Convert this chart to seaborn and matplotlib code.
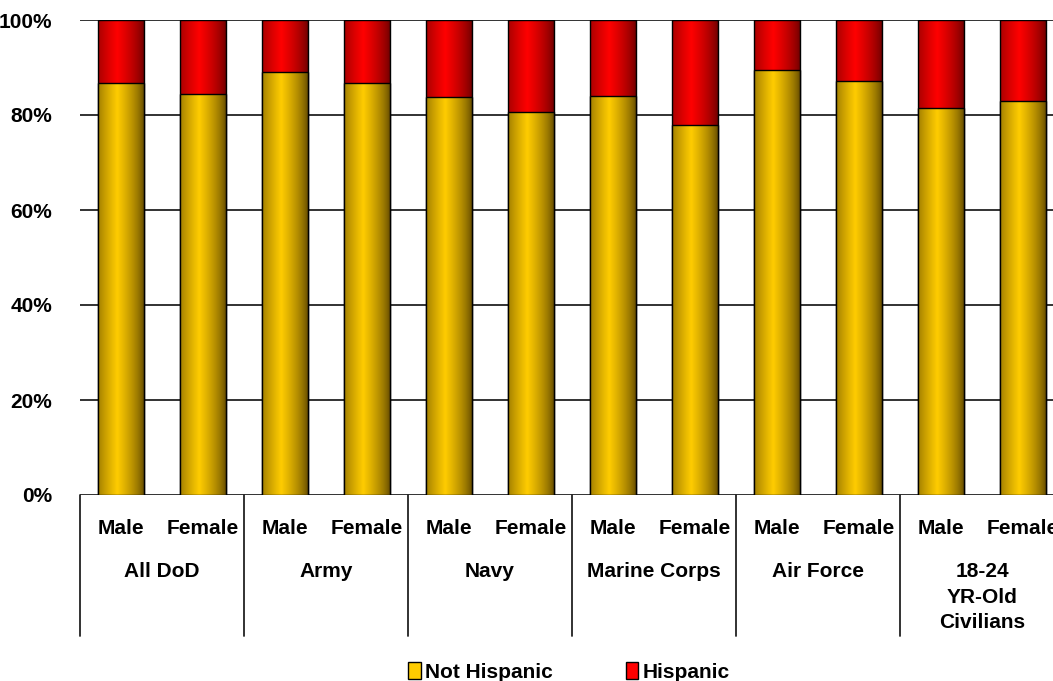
import numpy as np
import pandas as pd
import matplotlib
matplotlib.use('Agg')
import matplotlib.pyplot as plt
import seaborn as sns
from matplotlib.patches import Patch

# dados (% não hispânico; hispânico = restante até 100%)
grupos = ['All DoD', 'Army', 'Navy', 'Marine Corps', 'Air Force', '18-24\nYR-Old\nCivilians']
sexos = ['Male', 'Female']
nao_hispanico = [86.7, 84.4, 89.0, 86.7, 83.7, 80.7, 84.1, 78.0, 89.4, 87.1, 81.5, 82.9]
hispanico = [100 - v for v in nao_hispanico]
y_ticks = [0, 20, 40, 60, 80, 100]

rotulos = [f'{g} {s}' for g in grupos for s in sexos]
df = pd.DataFrame({
    'barra': rotulos,
    'Not Hispanic': nao_hispanico,
    'Hispanic': hispanico,
})
df['total'] = df['Not Hispanic'] + df['Hispanic']

sns.set_style('white')
plt.rcParams['font.family'] = ['Liberation Sans', 'DejaVu Sans']
plt.rcParams['font.weight'] = 'bold'
plt.rcParams['text.color'] = 'black'
plt.rcParams['ytick.labelcolor'] = 'black'

W, H = 1053, 681
fig = plt.figure(figsize=(W / 100, H / 100), dpi=100)
ax = fig.add_axes([80 / W, 186 / H, 984 / W, 475 / H])

for y in y_ticks:
    ax.axhline(y, color='#222222', linewidth=1.3, zorder=1)

sns.barplot(data=df, x='barra', y='total', color='red', width=0.55, ax=ax,
            edgecolor='black', linewidth=1.0, zorder=4)
sns.barplot(data=df, x='barra', y='Not Hispanic', color='#ffcc00', width=0.55, ax=ax,
            edgecolor='black', linewidth=1.0, zorder=6)

# degradê horizontal (estilo Excel)
t = np.linspace(0, 1, 80)
k = np.clip(1 - np.abs(t - 0.42) / 0.58, 0, 1) ** 0.7


def degrade(patch, escuro, claro, z):
    escuro = np.array(escuro) / 255
    claro = np.array(claro) / 255
    rgb = escuro + (claro - escuro) * k[:, None]
    x0, y0 = patch.get_x(), patch.get_y()
    w, h = patch.get_width(), patch.get_height()
    im = ax.imshow(rgb[None, :, :], extent=[x0, x0 + w, y0, y0 + h],
                   aspect='auto', origin='lower', zorder=z, interpolation='bilinear')
    im.set_clip_path(patch)
    patch.set_facecolor('none')


patches = list(ax.patches)
n = len(rotulos)
for p in patches[:n]:
    degrade(p, (110, 0, 0), (255, 0, 0), 3)
for p in patches[n:2 * n]:
    degrade(p, (100, 75, 0), (255, 204, 0), 5)

ax.set_xlim(-0.5, n - 0.5)
ax.set_ylim(0, 100)
ax.set_yticks(y_ticks)
ax.set_yticklabels([f'{v}%' for v in y_ticks], fontsize=15, fontweight='bold')
ax.tick_params(axis='y', length=0, pad=20)
ax.set_xticks([])
ax.set_xlabel('')
ax.set_ylabel('')
for s in ax.spines.values():
    s.set_visible(False)

# tabela de categorias abaixo do eixo
trans = ax.get_xaxis_transform()
fundo = -141 / 475
for i in range(len(grupos) + 1):
    ax.plot([i * 2 - 0.5, i * 2 - 0.5], [0, fundo], color='#222222', linewidth=1.3,
            transform=trans, clip_on=False)
for i, r in enumerate(rotulos):
    ax.text(i, -33 / 475, sexos[i % 2], transform=trans, ha='center', va='center',
            fontsize=15, fontweight='bold')
for j, g in enumerate(grupos):
    ax.text(j * 2 + 0.5, -67 / 475, g, transform=trans, ha='center', va='top',
            fontsize=15, fontweight='bold', linespacing=1.45)

handles = [Patch(facecolor='#ffcc00', edgecolor='black', label='Not Hispanic'),
           Patch(facecolor='red', edgecolor='black', label='Hispanic')]
fig.legend(handles=handles, loc='center', bbox_to_anchor=(569 / W, 9 / H), ncol=2,
           frameon=False, prop={'size': 15, 'weight': 'bold'}, handlelength=0.6,
           handleheight=0.9, handletextpad=0.2, columnspacing=3.5, borderaxespad=0)

fig.savefig('out.png', dpi=100)
